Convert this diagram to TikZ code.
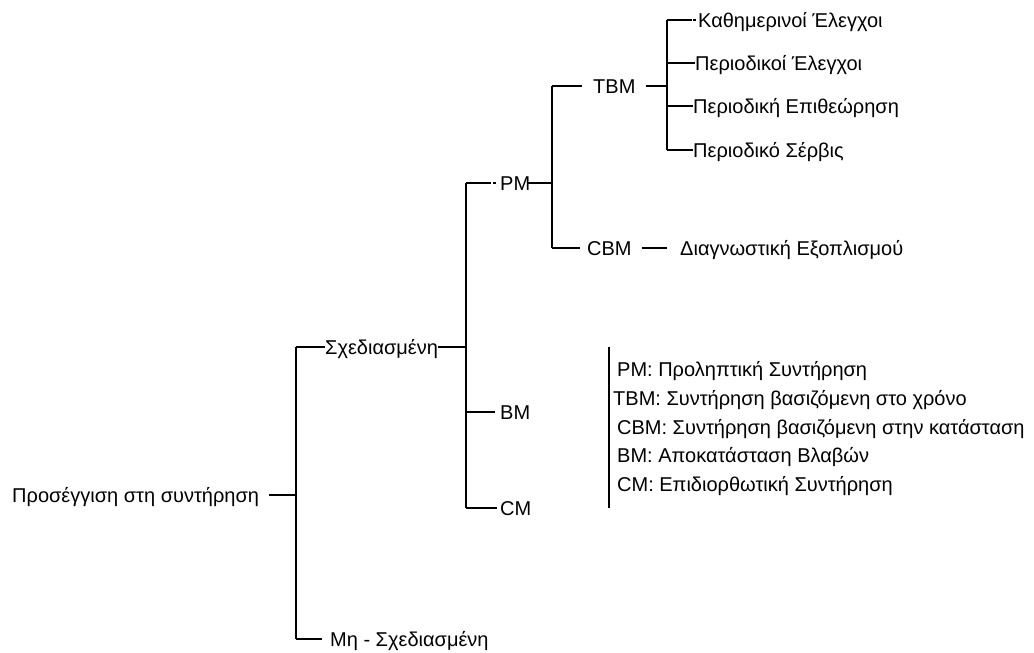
\documentclass[tikz,border=0pt]{standalone}
\usepackage{fontspec}
\setmainfont{Liberation Sans}
\begin{document}
\begin{tikzpicture}[x=1pt,y=-1pt,
  lbl/.style={font=\fontsize{20}{24}\selectfont, inner sep=0pt, anchor=west,
              text height=14.5pt, text depth=0pt},
  link/.style={line width=1.4pt, line cap=butt}]
\useasboundingbox (0,0) rectangle (1034,653);

% ---- labels of the tree ----
\node[lbl] (root) at (12,495)  {Προσέγγιση στη συντήρηση};
\node[lbl] (plan) at (325,347) {Σχεδιασμένη};
\node[lbl] (non)  at (330,639) {Μη - Σχεδιασμένη};
\node[lbl] (pm)   at (500,183) {PM};
\node[lbl] (bm)   at (500,412) {BM};
\node[lbl] (cm)   at (500,508) {CM};
\node[lbl] (tbm)  at (593,86)  {TBM};
\node[lbl] (cbm)  at (587,248) {CBM};
\node[lbl] (diag) at (680,248) {Διαγνωστική Εξοπλισμού};
\node[lbl] (k1)   at (698,20)  {Καθημερινοί Έλεγχοι};
\node[lbl] (k2)   at (695,63)  {Περιοδικοί Έλεγχοι};
\node[lbl] (k3)   at (693,106) {Περιοδική Επιθεώρηση};
\node[lbl] (k4)   at (693,150) {Περιοδικό Σέρβις};

% ---- junction points ----
\coordinate (a1) at (296,347);
\coordinate (a2) at (296,639);
\coordinate (b1) at (466,183);
\coordinate (b2) at (466,508);
\coordinate (c1) at (552,86);
\coordinate (c2) at (552,248);
\coordinate (d1) at (667,20);
\coordinate (d2) at (667,150);

% root level
\draw[link] ([xshift=10pt]root.east) -- (root.east -| a1);
\draw[link] (a1) -- (a2);
\draw[link] (a1) -- (plan.west);
\draw[link] (a2) -- ([xshift=-8pt]non.west);

% Σχεδιασμένη level
\draw[link] (plan.east) -- (plan.east -| b1);
\draw[link] (b1) -- ([xshift=-9pt]pm.west);
\draw[link] ([xshift=-7pt]pm.west) -- ([xshift=-4pt]pm.west);
\draw[link] (b1) -- (b2);
\draw[link] (bm.west -| b1) -- ([xshift=-5pt]bm.west);
\draw[link] (b2) -- ([xshift=-3pt]cm.west);

% PM level
\draw[link] ([xshift=-3pt]pm.east) -- (pm.east -| c1);
\draw[link] (c1) -- (c2);
\draw[link] (c1) -- ([xshift=-11pt]tbm.west);
\draw[link] (c2) -- ([xshift=-7pt]cbm.west);
\draw[link] ([xshift=10pt]cbm.east) -- ([xshift=-13pt]diag.west);

% TBM level
\draw[link] ([xshift=10pt]tbm.east) -- (tbm.east -| d1);
\draw[link] (d1) -- (d2);
\draw[link] (d1) -- ([xshift=-6pt]k1.west);
\draw[link] ([xshift=-5pt]k1.west) -- ([xshift=-2pt]k1.west);
\draw[link] (k2.west -| d1) -- (k2.west);
\draw[link] (k3.west -| d1) -- (k3.west);
\draw[link] (d2) -- (k4.west);

% ---- abbreviations ----
\coordinate (e1) at (609,347);
\coordinate (e2) at (609,508);
\draw[link] (e1) -- (e2);
\node[lbl] (g1) at (617,369) {PM: Προληπτική Συντήρηση};
\node[lbl] (g2) at (613,398) {TBM: Συντήρηση βασιζόμενη στο χρόνο};
\node[lbl] (g3) at (617,427) {CBM: Συντήρηση βασιζόμενη στην κατάσταση};
\node[lbl] (g4) at (617,455) {BM: Αποκατάσταση Βλαβών};
\node[lbl] (g5) at (617,484) {CM: Επιδιορθωτική Συντήρηση};
\end{tikzpicture}
\end{document}
